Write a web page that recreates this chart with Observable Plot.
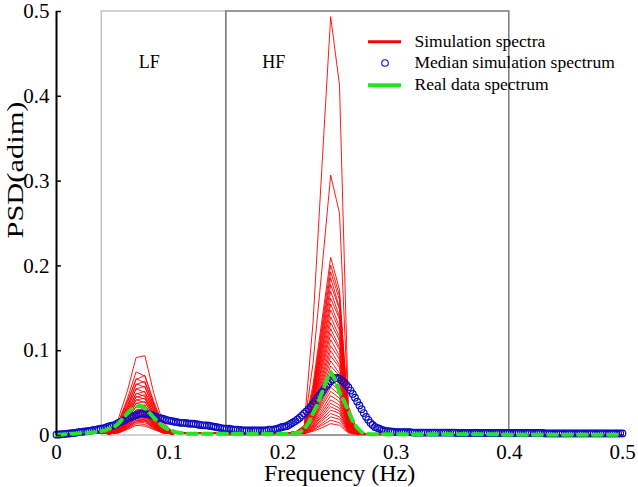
<!DOCTYPE html>
<html><head><meta charset="utf-8">
<script src="https://cdn.jsdelivr.net/npm/d3@7"></script>
<script src="https://cdn.jsdelivr.net/npm/@observablehq/plot@0.6"></script>
<style>
body{margin:0;background:#fff;}
#chart{width:638px;height:487px;}
</style></head><body><div id="chart"></div>
<script>
const xTicks = [0, 0.1, 0.2, 0.3, 0.4, 0.5];
const yTicks = [0, 0.1, 0.2, 0.3, 0.4, 0.5];
const bandNames = ["LF", "HF"];
const bandLow = [0.04, 0.15];
const bandHigh = [0.15, 0.4];
const legendLabels = ["Simulation spectra", "Median simulation spectrum", "Real data spectrum"];

// frequency samples of the simulated spectra (Hz)
const redFreq = [0, 0.0234, 0.0391,
  0.0469, 0.0547, 0.0625, 0.0703, 0.0781, 0.0859, 0.0938, 0.1016,
  0.1094, 0.125, 0.1563, 0.1875, 0.2031, 0.2109,
  0.2188, 0.2266, 0.2344, 0.2422, 0.25, 0.2578, 0.2656,
  0.2734, 0.2891, 0.3438, 0.5];
const redPre = [0.001, 0.002, 0.003];
const redMid = [0.003, 0.003, 0.002, 0.002, 0.003, 0.004];
const redPost = [0.002, 0.001, 0.001, 0.001];
// LF part of each simulated spectrum (0.047 .. 0.102 Hz)
const redLF = [
  [0.006, 0.020, 0.052, 0.092, 0.094, 0.050, 0.016, 0.006],
  [0.005, 0.016, 0.043, 0.075, 0.070, 0.040, 0.014, 0.005],
  [0.005, 0.015, 0.040, 0.066, 0.071, 0.038, 0.013, 0.005],
  [0.004, 0.014, 0.038, 0.067, 0.062, 0.036, 0.012, 0.005],
  [0.004, 0.013, 0.035, 0.060, 0.064, 0.035, 0.012, 0.004],
  [0.004, 0.013, 0.034, 0.061, 0.057, 0.033, 0.011, 0.004],
  [0.004, 0.012, 0.032, 0.055, 0.058, 0.031, 0.011, 0.004],
  [0.004, 0.011, 0.031, 0.055, 0.051, 0.030, 0.010, 0.004],
  [0.003, 0.011, 0.029, 0.049, 0.052, 0.029, 0.010, 0.004],
  [0.003, 0.010, 0.028, 0.050, 0.046, 0.027, 0.009, 0.004],
  [0.003, 0.010, 0.026, 0.045, 0.048, 0.026, 0.009, 0.003],
  [0.003, 0.009, 0.026, 0.046, 0.043, 0.025, 0.009, 0.003],
  [0.003, 0.009, 0.024, 0.042, 0.044, 0.024, 0.008, 0.003],
  [0.003, 0.008, 0.023, 0.042, 0.039, 0.023, 0.008, 0.003],
  [0.003, 0.008, 0.022, 0.038, 0.040, 0.022, 0.008, 0.003],
  [0.003, 0.008, 0.021, 0.038, 0.035, 0.021, 0.007, 0.003],
  [0.003, 0.007, 0.020, 0.034, 0.036, 0.020, 0.007, 0.003],
  [0.003, 0.007, 0.019, 0.034, 0.032, 0.019, 0.007, 0.003],
  [0.003, 0.007, 0.018, 0.030, 0.032, 0.018, 0.006, 0.003],
  [0.002, 0.006, 0.017, 0.030, 0.028, 0.017, 0.006, 0.003],
  [0.002, 0.006, 0.016, 0.027, 0.029, 0.016, 0.006, 0.003],
  [0.002, 0.006, 0.015, 0.028, 0.026, 0.015, 0.006, 0.002],
  [0.002, 0.006, 0.015, 0.026, 0.027, 0.015, 0.005, 0.002],
  [0.002, 0.005, 0.014, 0.026, 0.024, 0.014, 0.005, 0.002],
  [0.002, 0.005, 0.014, 0.024, 0.025, 0.014, 0.005, 0.002],
  [0.002, 0.005, 0.013, 0.024, 0.022, 0.013, 0.005, 0.002],
  [0.002, 0.005, 0.013, 0.022, 0.023, 0.013, 0.005, 0.002],
  [0.002, 0.005, 0.012, 0.022, 0.020, 0.012, 0.004, 0.002],
  [0.002, 0.004, 0.012, 0.020, 0.021, 0.012, 0.004, 0.002],
  [0.002, 0.004, 0.011, 0.020, 0.018, 0.011, 0.004, 0.002],
  [0.002, 0.004, 0.010, 0.018, 0.019, 0.010, 0.004, 0.002],
  [0.002, 0.004, 0.010, 0.018, 0.017, 0.010, 0.004, 0.002],
  [0.002, 0.004, 0.009, 0.016, 0.017, 0.009, 0.004, 0.002],
  [0.002, 0.004, 0.009, 0.016, 0.015, 0.009, 0.003, 0.002],
  [0.002, 0.003, 0.008, 0.014, 0.013, 0.008, 0.003, 0.002],
  [0.002, 0.003, 0.007, 0.012, 0.011, 0.007, 0.003, 0.002]
];
// HF part of each simulated spectrum (0.219 .. 0.266 Hz)
const redHF = [
  [0.012, 0.133, 0.315, 0.494, 0.413, 0.035, 0.006],
  [0.010, 0.085, 0.195, 0.307, 0.262, 0.028, 0.005],
  [0.009, 0.060, 0.135, 0.210, 0.172, 0.022, 0.005],
  [0.008, 0.055, 0.128, 0.201, 0.165, 0.020, 0.004],
  [0.010, 0.052, 0.122, 0.193, 0.160, 0.024, 0.005],
  [0.007, 0.050, 0.118, 0.186, 0.150, 0.018, 0.004],
  [0.009, 0.048, 0.112, 0.178, 0.149, 0.021, 0.005],
  [0.008, 0.046, 0.108, 0.170, 0.140, 0.019, 0.004],
  [0.007, 0.044, 0.102, 0.162, 0.137, 0.017, 0.004],
  [0.009, 0.042, 0.099, 0.155, 0.128, 0.020, 0.005],
  [0.006, 0.040, 0.094, 0.148, 0.124, 0.016, 0.004],
  [0.008, 0.038, 0.090, 0.140, 0.116, 0.018, 0.004],
  [0.007, 0.036, 0.085, 0.133, 0.112, 0.015, 0.003],
  [0.008, 0.035, 0.081, 0.126, 0.104, 0.017, 0.004],
  [0.006, 0.033, 0.077, 0.120, 0.101, 0.014, 0.003],
  [0.007, 0.031, 0.072, 0.113, 0.094, 0.015, 0.004],
  [0.006, 0.029, 0.068, 0.106, 0.090, 0.013, 0.003],
  [0.007, 0.028, 0.064, 0.100, 0.083, 0.014, 0.004],
  [0.005, 0.026, 0.060, 0.094, 0.080, 0.012, 0.003],
  [0.006, 0.024, 0.057, 0.088, 0.073, 0.013, 0.003],
  [0.005, 0.023, 0.053, 0.082, 0.070, 0.011, 0.003],
  [0.006, 0.021, 0.050, 0.077, 0.064, 0.012, 0.003],
  [0.005, 0.020, 0.046, 0.072, 0.061, 0.010, 0.003],
  [0.005, 0.019, 0.043, 0.067, 0.056, 0.011, 0.003],
  [0.004, 0.017, 0.040, 0.062, 0.053, 0.009, 0.002],
  [0.005, 0.016, 0.037, 0.057, 0.048, 0.010, 0.003],
  [0.004, 0.015, 0.034, 0.052, 0.044, 0.008, 0.002],
  [0.004, 0.013, 0.030, 0.047, 0.040, 0.008, 0.002],
  [0.004, 0.012, 0.027, 0.042, 0.036, 0.007, 0.002],
  [0.003, 0.011, 0.024, 0.038, 0.032, 0.006, 0.002],
  [0.003, 0.010, 0.022, 0.034, 0.029, 0.006, 0.002],
  [0.003, 0.009, 0.019, 0.030, 0.026, 0.005, 0.002],
  [0.003, 0.008, 0.017, 0.026, 0.022, 0.005, 0.002],
  [0.003, 0.007, 0.014, 0.022, 0.019, 0.004, 0.002],
  [0.002, 0.006, 0.012, 0.018, 0.015, 0.004, 0.002],
  [0.002, 0.005, 0.009, 0.014, 0.012, 0.003, 0.001]
];
// median simulation spectrum, bins of 1/512 Hz from 0 to 0.5
const medianSpectrum = [
  0.0010, 0.0012, 0.0015, 0.0017, 0.0020, 0.0022, 0.0025, 0.0027, 0.0030, 0.0035,
  0.0040, 0.0042, 0.0045, 0.0048, 0.0050, 0.0055, 0.0060, 0.0065, 0.0070, 0.0075,
  0.0080, 0.0085, 0.0090, 0.0100, 0.0110, 0.0115, 0.0120, 0.0135, 0.0150, 0.0160,
  0.0170, 0.0185, 0.0200, 0.0210, 0.0220, 0.0230, 0.0240, 0.0250, 0.0260, 0.0260,
  0.0255, 0.0253, 0.0250, 0.0240, 0.0230, 0.0220, 0.0210, 0.0205, 0.0200, 0.0190,
  0.0180, 0.0175, 0.0170, 0.0165, 0.0160, 0.0155, 0.0150, 0.0150, 0.0150, 0.0145,
  0.0140, 0.0140, 0.0140, 0.0135, 0.0130, 0.0125, 0.0120, 0.0120, 0.0120, 0.0115,
  0.0110, 0.0105, 0.0100, 0.0095, 0.0090, 0.0085, 0.0080, 0.0080, 0.0080, 0.0075,
  0.0070, 0.0070, 0.0070, 0.0065, 0.0060, 0.0060, 0.0060, 0.0060, 0.0060, 0.0060,
  0.0060, 0.0060, 0.0060, 0.0060, 0.0060, 0.0060, 0.0070, 0.0070, 0.0070, 0.0075,
  0.0080, 0.0090, 0.0100, 0.0105, 0.0110, 0.0125, 0.0140, 0.0155, 0.0170, 0.0190,
  0.0210, 0.0235, 0.0260, 0.0285, 0.0310, 0.0340, 0.0370, 0.0405, 0.0440, 0.0475,
  0.0510, 0.0545, 0.0580, 0.0610, 0.0640, 0.0660, 0.0680, 0.0680, 0.0670, 0.0650,
  0.0630, 0.0600, 0.0570, 0.0530, 0.0490, 0.0445, 0.0400, 0.0355, 0.0310, 0.0265,
  0.0220, 0.0185, 0.0150, 0.0125, 0.0100, 0.0090, 0.0080, 0.0070, 0.0060, 0.0055,
  0.0050, 0.0048, 0.0045, 0.0042, 0.0040, 0.0040, 0.0040, 0.0040, 0.0040, 0.0040,
  0.0040, 0.0035, 0.0035, 0.0035, 0.0035, 0.0035, 0.0035, 0.0035, 0.0035, 0.0035,
  0.0035, 0.0035, 0.0035, 0.0035, 0.0035, 0.0035, 0.0035, 0.0035, 0.0035, 0.0035,
  0.0035, 0.0030, 0.0030, 0.0030, 0.0030, 0.0030, 0.0030, 0.0030, 0.0030, 0.0030,
  0.0030, 0.0030, 0.0030, 0.0030, 0.0030, 0.0030, 0.0030, 0.0030, 0.0030, 0.0030,
  0.0030, 0.0030, 0.0030, 0.0030, 0.0030, 0.0030, 0.0030, 0.0030, 0.0030, 0.0030,
  0.0030, 0.0030, 0.0030, 0.0030, 0.0030, 0.0030, 0.0030, 0.0030, 0.0030, 0.0030,
  0.0030, 0.0025, 0.0025, 0.0025, 0.0025, 0.0025, 0.0025, 0.0025, 0.0025, 0.0025,
  0.0025, 0.0025, 0.0025, 0.0025, 0.0025, 0.0025, 0.0025, 0.0025, 0.0025, 0.0025,
  0.0025, 0.0025, 0.0025, 0.0025, 0.0025, 0.0025, 0.0025, 0.0025, 0.0025, 0.0025,
  0.0025, 0.0025, 0.0025, 0.0025, 0.0025, 0.0025, 0.0025
];
// real data spectrum, bins of 1/256 Hz from 0 to 0.5
const realSpectrum = [
  0.001, 0.001, 0.0015, 0.002, 0.002, 0.0025, 0.003, 0.003, 0.0035, 0.004, 0.005,
  0.006, 0.008, 0.010, 0.014, 0.020, 0.026, 0.031, 0.034, 0.035, 0.032,
  0.027, 0.021, 0.016, 0.011, 0.008, 0.006, 0.004, 0.003, 0.0025, 0.002,
  0.002, 0.002, 0.002, 0.002, 0.002, 0.002, 0.002, 0.002, 0.002, 0.002,
  0.002, 0.002, 0.002, 0.002, 0.002, 0.002, 0.002, 0.002, 0.002, 0.002,
  0.002, 0.002, 0.002, 0.003, 0.004, 0.007, 0.015, 0.026, 0.037, 0.050,
  0.064, 0.0745, 0.066, 0.051, 0.041, 0.029, 0.017, 0.009, 0.004, 0.002,
  0.0015, 0.0015, 0.0015, 0.0015, 0.0015, 0.0015, 0.0015, 0.0015, 0.0015, 0.0015,
  0.0015, 0.0015, 0.0015, 0.0015, 0.0015, 0.0015, 0.0015, 0.0015, 0.0015, 0.0015,
  0.0015, 0.0015, 0.0015, 0.0015, 0.0015, 0.0015, 0.0015, 0.0015, 0.0015, 0.0015,
  0.001, 0.001, 0.001, 0.001, 0.001, 0.001, 0.001, 0.001, 0.001, 0.001,
  0.001, 0.001, 0.001, 0.001, 0.001, 0.001, 0.001, 0.001, 0.001, 0.001,
  0.001, 0.001, 0.001, 0.001, 0.001, 0.001, 0.001, 0.001
];

const redRows = [];
redLF.forEach((lf, i) => {
  const vals = [...redPre, ...lf, ...redMid, ...redHF[i], ...redPost];
  vals.forEach((v, j) => redRows.push({id: i, f: redFreq[j], v}));
});
const medianRows = medianSpectrum.map((v, k) => ({f: k / 512, v}));
const realRows = realSpectrum.map((v, k) => ({f: k / 256, v}));
const bands = bandNames.map((name, i) => ({name, lo: bandLow[i], hi: bandHigh[i]}));

const serif = "'Liberation Serif', 'Times New Roman', serif";
const fmt = d => String(d);

const plot = Plot.plot({
  width: 638, height: 487,
  marginLeft: 56, marginRight: 16, marginTop: 11, marginBottom: 52,
  style: {fontFamily: serif, fontSize: "20px", color: "#000", background: "#fff", overflow: "visible"},
  x: {domain: [0, 0.5]},
  y: {domain: [0, 0.5]},
  marks: [
    Plot.rect(bands.filter(d => d.name === "LF"), {x1: "lo", x2: "hi", y1: 0, y2: 0.5, fill: "none", stroke: "#c4c4c4", strokeWidth: 1.5}),
    Plot.rect(bands.filter(d => d.name === "HF"), {x1: "lo", x2: "hi", y1: 0, y2: 0.5, fill: "none", stroke: "#7a7a7a", strokeWidth: 1.5}),
    Plot.text(bands, {x: d => d.lo + 0.042, y: 0.44, text: "name", fontSize: 18, fill: "#000"}),
    Plot.line(redRows, {x: "f", y: "v", z: "id", stroke: "#ff0000", strokeWidth: 0.9}),
    Plot.dot(medianRows, {x: "f", y: "v", r: 3.3, stroke: "#0c0cc8", strokeWidth: 1.2, fill: "none"}),
    Plot.line(realRows, {x: "f", y: "v", stroke: "#22e622", strokeWidth: 4, strokeDasharray: "9,6"}),
    Plot.ruleX([0], {stroke: "#000", strokeWidth: 2}),
    Plot.axisY(yTicks, {tickSize: -5, tickPadding: 12, tickFormat: fmt, label: null, strokeWidth: 1.5, fontSize: 21}),
    Plot.axisX(xTicks, {tickSize: 0, tickPadding: 9, tickFormat: fmt, label: null, fontSize: 21}),
    Plot.text(["Frequency (Hz)"], {frameAnchor: "bottom", dy: 45, lineAnchor: "bottom", fontSize: 24, fill: "#000"}),
    Plot.text(["PSD(adim)"], {frameAnchor: "left", dx: -34, dy: 15, rotate: -90, lineAnchor: "bottom", fontSize: 24, fill: "#000"})
  ]
});

const svg = d3.select(plot);
svg.selectAll("text").filter(function() { return this.textContent === "PSD(adim)"; })
  .attr("textLength", 137).attr("lengthAdjust", "spacingAndGlyphs");

const lg = svg.append("g").attr("font-family", serif).attr("font-size", 17.5).attr("fill", "#000").attr("text-anchor", "start");
const rowsY = [41.7, 63, 85.3];
const baseY = [46.7, 68.3, 90];
legendLabels.forEach((t, i) => {
  lg.append("text").attr("x", 414.5).attr("y", baseY[i]).attr("text-anchor", "start").text(t);
});
lg.append("line").attr("x1", 368).attr("x2", 401).attr("y1", rowsY[0]).attr("y2", rowsY[0]).attr("stroke", "#ff0000").attr("stroke-width", 3);
lg.append("circle").attr("cx", 385).attr("cy", rowsY[1]).attr("r", 3.3).attr("fill", "none").attr("stroke", "#0c0cc8").attr("stroke-width", 1.1);
lg.append("line").attr("x1", 368).attr("x2", 401).attr("y1", rowsY[2]).attr("y2", rowsY[2]).attr("stroke", "#22e622").attr("stroke-width", 4);

document.getElementById("chart").appendChild(plot);
</script></body></html>
